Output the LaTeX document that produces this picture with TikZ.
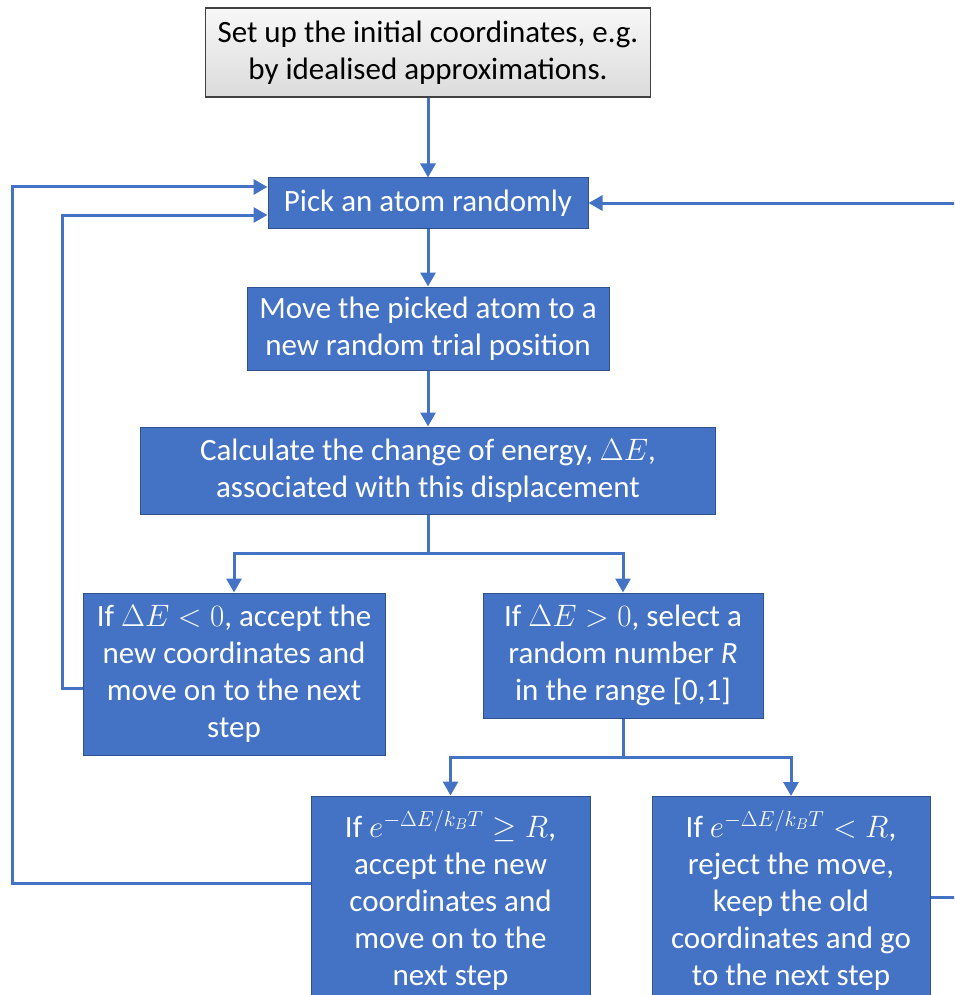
\documentclass[tikz,border=0pt]{standalone}
\usepackage{fix-cm}
\usepackage{fontspec}
\setmainfont{Carlito}
\usetikzlibrary{arrows.meta}
\definecolor{boxblue}{HTML}{4472C4}
\definecolor{boxedge}{HTML}{2F528F}
\begin{document}
\begin{tikzpicture}[x=1pt,y=-1pt,
    stepbox/.style={draw=boxedge,line width=1pt,fill=boxblue,text=white,align=center,inner sep=0pt,
        font=\fontsize{31}{37}\selectfont},
    startbox/.style={draw=black!75,line width=1.5pt,top color=gray!6,bottom color=gray!28,text=black,
        align=center,inner sep=0pt,font=\fontsize{31}{37}\selectfont},
    line/.style={draw=boxblue,line width=3pt},
    flow/.style={line,-{Triangle[width=15pt,length=14pt]}}]
    \clip (0,0) rectangle (954,995);
    
    \node[startbox,minimum width=445pt,minimum height=89pt] (init) at (428,52.5)
        {Set up the initial coordinates, e.g.\\ by idealised approximations.};
    \node[stepbox,minimum width=320pt,minimum height=50pt] (pick) at (428,203)
        {Pick an atom randomly};
    \node[stepbox,minimum width=362pt,minimum height=83pt] (move) at (428,328.5)
        {Move the picked atom to a\\ new random trial position};
    \node[stepbox,minimum width=575pt,minimum height=87pt] (calc) at (428,470.5)
        {Calculate the change of energy, $\Delta E$,\\ associated with this displacement};
    
    \node[stepbox,minimum width=302pt,minimum height=162pt] (neg) at (234,674)
        {If $\Delta E<0$, accept the\\ new coordinates and\\ move on to the next\\ step};
    \node[stepbox,minimum width=280pt,minimum height=125pt] (pos) at (623,655.5)
        {If $\Delta E>0$, select a\\ random number \textit{R}\\ in the range [0,1]};
    
    \node[stepbox,minimum width=279pt,minimum height=208pt] (accept) at (450.5,900)
        {If $e^{-\Delta E/k_BT}\geq R$,\\ accept the new\\ coordinates and\\ move on to the\\ next step};
    \node[stepbox,minimum width=278pt,minimum height=208pt] (reject) at (791,900.5)
        {If $e^{-\Delta E/k_BT}<R$,\\ reject the move,\\ keep the old\\ coordinates and go\\ to the next step};
    
    \draw[flow] (init) -- (pick);
    \draw[flow] (pick) -- (move);
    \draw[flow] (move) -- (calc);
    
    \draw[line] (calc.south) -- ++(0,39) coordinate (split1);
    \draw[flow] (split1) -| (neg.north);
    \draw[flow] (split1) -| (pos.north);
    
    \draw[line] (pos.south) -- ++(0,39) coordinate (split2);
    \draw[flow] (split2) -| (accept.north);
    \draw[flow] (split2) -| (reject.north);
    
    % loops back to the start
    \draw[flow] ([yshift=17pt]accept.west) -| (12,187) -- ([yshift=16pt]pick.west);
    \draw[flow] ([yshift=-14pt]neg.west) -| (62,215) -- ([yshift=-12pt]pick.west);
    \draw[flow] ([yshift=3pt]reject.east) -| (990,203) -- (pick.east);
\end{tikzpicture}
\end{document}
